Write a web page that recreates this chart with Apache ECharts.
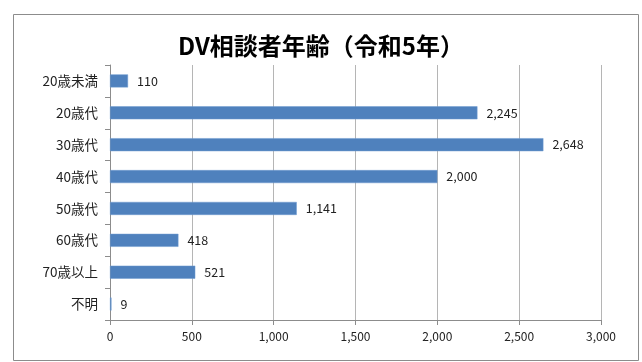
<!DOCTYPE html>
<html><head><meta charset="utf-8">
<script src="https://cdn.jsdelivr.net/npm/echarts@6/dist/echarts.min.js"></script>
<style>html,body{margin:0;padding:0;background:#fff}#c{width:642px;height:362px}</style>
</head><body><div id="c"></div>
<script>
const titleText = 'DV相談者年齢（令和5年）';
const categories = ['20歳未満','20歳代','30歳代','40歳代','50歳代','60歳代','70歳以上','不明'];
const values = [110, 2245, 2648, 2000, 1141, 418, 521, 9];
const xTicks = { min: 0, max: 3000, interval: 500 };

const chart = echarts.init(document.getElementById('c'), null, {renderer:'canvas'});
const fam = '"Noto Sans CJK JP", "Noto Sans", sans-serif';
const fmt = v => Number(v).toLocaleString('en-US');
chart.setOption({
  animation: false,
  backgroundColor: '#fff',
  graphic: [{
    type: 'rect', left: 13, top: 14, z: -10,
    shape: { width: 625, height: 346 },
    style: { fill: '#fff', stroke: '#8c8c8c', lineWidth: 1 }
  }],
  title: {
    text: titleText, left: 'center', top: 29,
    textStyle: { fontFamily: fam, fontSize: 24, fontWeight: 'bold', color: '#000' }
  },
  grid: { left: 110, right: 41, top: 65, bottom: 42, containLabel: false },
  xAxis: {
    type: 'value', min: xTicks.min, max: xTicks.max, interval: xTicks.interval,
    axisLine: { show: true, lineStyle: { color: '#8c8c8c' } },
    axisTick: { show: true, length: 5, lineStyle: { color: '#8c8c8c' } },
    axisLabel: { formatter: fmt, fontFamily: fam, fontSize: 12, color: '#222', margin: 10 },
    splitLine: { show: true, lineStyle: { color: '#b5b5b5', width: 1 } }
  },
  yAxis: {
    type: 'category', data: categories, inverse: true,
    axisLine: { show: true, lineStyle: { color: '#8c8c8c' } },
    axisTick: { show: true, length: 5, lineStyle: { color: '#8c8c8c' } },
    axisLabel: { fontFamily: fam, fontSize: 13.5, color: '#222', margin: 12 }
  },
  series: [{
    type: 'bar', data: values, barWidth: 13,
    itemStyle: { color: '#4f81bd', borderColor: '#6f9bd0', borderWidth: 0.5 },
    label: { show: true, position: 'right', distance: 9, formatter: p => fmt(p.value),
      fontFamily: fam, fontSize: 12.5, color: '#222' }
  }]
});
</script></body></html>
